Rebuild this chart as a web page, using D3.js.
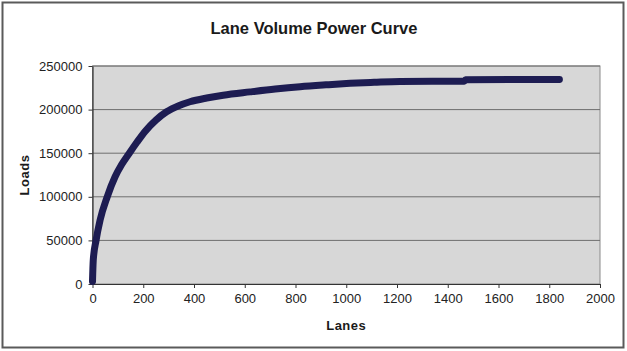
<!DOCTYPE html>
<html>
<head>
<meta charset="utf-8">
<script src="https://cdn.jsdelivr.net/npm/d3@7"></script>
<style>
  body { margin: 0; background: #fff; }
  svg { display: block; font-family: Arial, "Liberation Sans", sans-serif; }
</style>
</head>
<body>
<svg id="drawing_region"></svg>
<script>
// values
const lanes = [0, 3, 14, 30, 58, 89, 115, 145, 175, 207, 250, 292, 340, 384, 450, 515, 621, 720, 818, 920, 1015, 1110, 1212, 1465, 1470, 1840];
const loads = [3000, 27500, 50000, 73400, 100000, 123000, 137000, 150000, 162500, 175000, 188000, 197500, 204500, 209000, 213300, 216500, 220300, 223600, 226300, 228400, 230100, 231300, 232300, 232600, 234300, 234500];
const xTicks = [0, 200, 400, 600, 800, 1000, 1200, 1400, 1600, 1800, 2000];
const yTicks = [0, 50000, 100000, 150000, 200000, 250000];

const data = lanes.map((d, i) => ({ lanes: d, loads: loads[i] }));

const config = {
  width: 627,
  height: 351,
  margin: { top: 66, right: 27, bottom: 67, left: 92.5 }
};

const svg = d3.select('#drawing_region')
  .attr('width', config.width)
  .attr('height', config.height);

// outer frame
svg.append('rect')
  .attr('x', 2.5).attr('y', 2.5)
  .attr('width', 621).attr('height', 345)
  .attr('fill', '#fff')
  .attr('stroke', '#5a5a5a')
  .attr('stroke-width', 2);

const inner_width = config.width - config.margin.left - config.margin.right;
const inner_height = config.height - config.margin.top - config.margin.bottom;

const chart = svg.append('g')
  .attr('transform', `translate(${config.margin.left}, ${config.margin.top})`);

const xscale = d3.scaleLinear().domain([0, 2000]).range([0, inner_width]);
const yscale = d3.scaleLinear().domain([0, 250000]).range([inner_height, 0]);

// plot background
chart.append('rect')
  .attr('width', inner_width)
  .attr('height', inner_height)
  .attr('fill', '#d7d7d7')
  .attr('stroke', '#8a8a8a')
  .attr('stroke-width', 1);

// gridlines
chart.append('g')
  .selectAll('line')
  .data(yTicks.slice(1))
  .join('line')
  .attr('x1', 0)
  .attr('x2', inner_width)
  .attr('y1', d => yscale(d))
  .attr('y2', d => yscale(d))
  .attr('stroke', '#6e6e6e')
  .attr('stroke-width', 1);

// axes
const xaxis = d3.axisBottom(xscale).tickValues(xTicks).tickSizeInner(4).tickSizeOuter(0).tickPadding(6).tickFormat(d3.format('d'));
const yaxis = d3.axisLeft(yscale).tickValues(yTicks).tickSizeInner(4).tickSizeOuter(0).tickPadding(6).tickFormat(d3.format('d'));

const xaxis_group = chart.append('g')
  .attr('transform', `translate(0, ${inner_height})`)
  .call(xaxis);
const yaxis_group = chart.append('g')
  .call(yaxis);

[xaxis_group, yaxis_group].forEach(g => {
  g.select('.domain').attr('stroke', '#333').attr('stroke-width', 1.2);
  g.selectAll('.tick line').attr('stroke', '#333');
  g.selectAll('.tick text').attr('fill', '#222').attr('font-size', 13);
});

// the curve
const line = d3.line()
  .x(d => xscale(d.lanes))
  .y(d => yscale(d.loads))
  .curve(d3.curveMonotoneX);

chart.append('path')
  .datum(data)
  .attr('d', line)
  .attr('fill', 'none')
  .attr('stroke', '#1d1c52')
  .attr('stroke-width', 7)
  .attr('stroke-linecap', 'round')
  .attr('stroke-linejoin', 'round');

// titles
svg.append('text')
  .attr('x', 314)
  .attr('y', 34)
  .attr('text-anchor', 'middle')
  .attr('font-size', 16.5)
  .attr('font-weight', 'bold')
  .attr('fill', '#1a1a1a')
  .text('Lane Volume Power Curve');

svg.append('text')
  .attr('x', config.margin.left + inner_width / 2)
  .attr('y', 330)
  .attr('text-anchor', 'middle')
  .attr('font-size', 13)
  .attr('font-weight', 'bold')
  .attr('fill', '#1a1a1a')
  .attr('letter-spacing', 0.5)
  .text('Lanes');

svg.append('text')
  .attr('transform', `translate(29, ${config.margin.top + inner_height / 2}) rotate(-90)`)
  .attr('text-anchor', 'middle')
  .attr('font-size', 13)
  .attr('font-weight', 'bold')
  .attr('fill', '#1a1a1a')
  .attr('letter-spacing', 0.5)
  .text('Loads');
</script>
</body>
</html>
